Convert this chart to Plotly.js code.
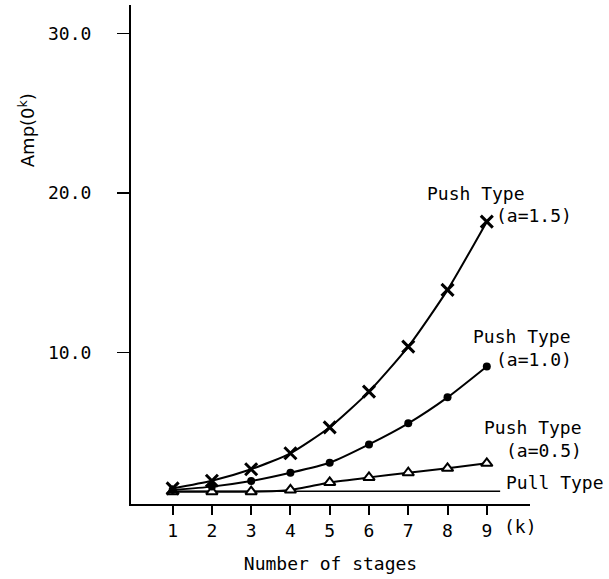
<!DOCTYPE html>
<html>
<head>
<meta charset="utf-8">
<script src="https://cdn.plot.ly/plotly-3.0.1.min.js"></script>
<style>html,body{margin:0;padding:0;background:#fff;}</style>
</head>
<body>
<div id="chart" style="width:609px;height:579px;"></div>
<script>
// Data
const stages = [1, 2, 3, 4, 5, 6, 7, 8, 9];
const pushA15 = [1.48, 1.96, 2.68, 3.68, 5.31, 7.55, 10.37, 13.93, 18.21];
const pushA10 = [1.38, 1.59, 1.94, 2.46, 3.09, 4.24, 5.56, 7.19, 9.13];
const pushA05 = [1.27, 1.27, 1.27, 1.38, 1.85, 2.17, 2.46, 2.74, 3.05];
const pullK = [1, 9.34];
const pullAmp = [1.3, 1.3];
const yTickVals = [10, 20, 30];
const yTickText = ["10.0", "20.0", "30.0"];

const FONT = "DejaVu Sans Mono";
const black = "#000";

const traces = [
  {x: pullK, y: pullAmp, mode: "lines", line: {color: black, width: 1.5}, hoverinfo: "skip"},
  {x: stages, y: pushA05, mode: "lines+markers", line: {color: black, width: 2, shape: "spline", smoothing: 0.6},
   marker: {symbol: "triangle-up", size: 10, color: "#fff", line: {color: black, width: 2}}},
  {x: stages, y: pushA10, mode: "lines+markers", line: {color: black, width: 2, shape: "spline", smoothing: 0.6},
   marker: {symbol: "circle", size: 8, color: black}},
  {x: stages, y: pushA15, mode: "lines+markers", line: {color: black, width: 2, shape: "spline", smoothing: 0.6},
   marker: {symbol: "x-thin", size: 12, color: black, line: {color: black, width: 3}}}
];

function lab(text, x, y, anchor) {
  return {text: text, xref: "paper", yref: "paper", x: x, y: y, xanchor: anchor || "left", yanchor: "middle",
          showarrow: false, font: {family: FONT, size: 18, color: black}};
}

const layout = {
  width: 609, height: 579,
  margin: {l: 131, r: 79, t: 5, b: 75},
  paper_bgcolor: "#fff", plot_bgcolor: "#fff",
  showlegend: false,
  font: {family: FONT, size: 18, color: black},
  xaxis: {
    range: [-0.06, 10.1], showline: true, linecolor: black, linewidth: 2, mirror: false,
    ticks: "outside", tickvals: stages, ticklen: 9, tickwidth: 2, tickcolor: black,
    showgrid: false, zeroline: false, tickfont: {family: FONT, size: 18, color: black},
    title: {text: "Number of stages", font: {family: FONT, size: 18, color: black}, standoff: 18}
  },
  yaxis: {
    range: [0.5, 31.8], showline: true, linecolor: black, linewidth: 2,
    ticks: "outside", tickvals: yTickVals, ticktext: yTickText, ticklen: 12, tickwidth: 1.5, tickcolor: black,
    ticklabelstandoff: 22,
    showgrid: false, zeroline: false, tickfont: {family: FONT, size: 18, color: black}
  },
  annotations: [
    {text: "Amp(0<sup>k</sup>)", xref: "paper", yref: "paper", x: -0.262, y: 0.75, textangle: -90,
     xanchor: "center", yanchor: "middle", showarrow: false, font: {family: "DejaVu Sans", size: 18, color: black}},
    {text: "(k)", xref: "paper", yref: "paper", x: 0.976, y: -0.046, xanchor: "center", yanchor: "middle",
     showarrow: false, font: {family: FONT, size: 18, color: black}},
    lab("Push Type", 0.738, 0.623),
    lab("(a=1.5)", 0.911, 0.579),
    lab("Push Type", 0.851, 0.335),
    lab("(a=1.0)", 0.911, 0.289),
    lab("Push Type", 0.879, 0.154),
    lab("(a=0.5)", 0.936, 0.108),
    lab("Pull Type", 0.934, 0.044)
  ]
};

Plotly.newPlot("chart", traces, layout, {staticPlot: true, displayModeBar: false});
</script>
</body>
</html>
